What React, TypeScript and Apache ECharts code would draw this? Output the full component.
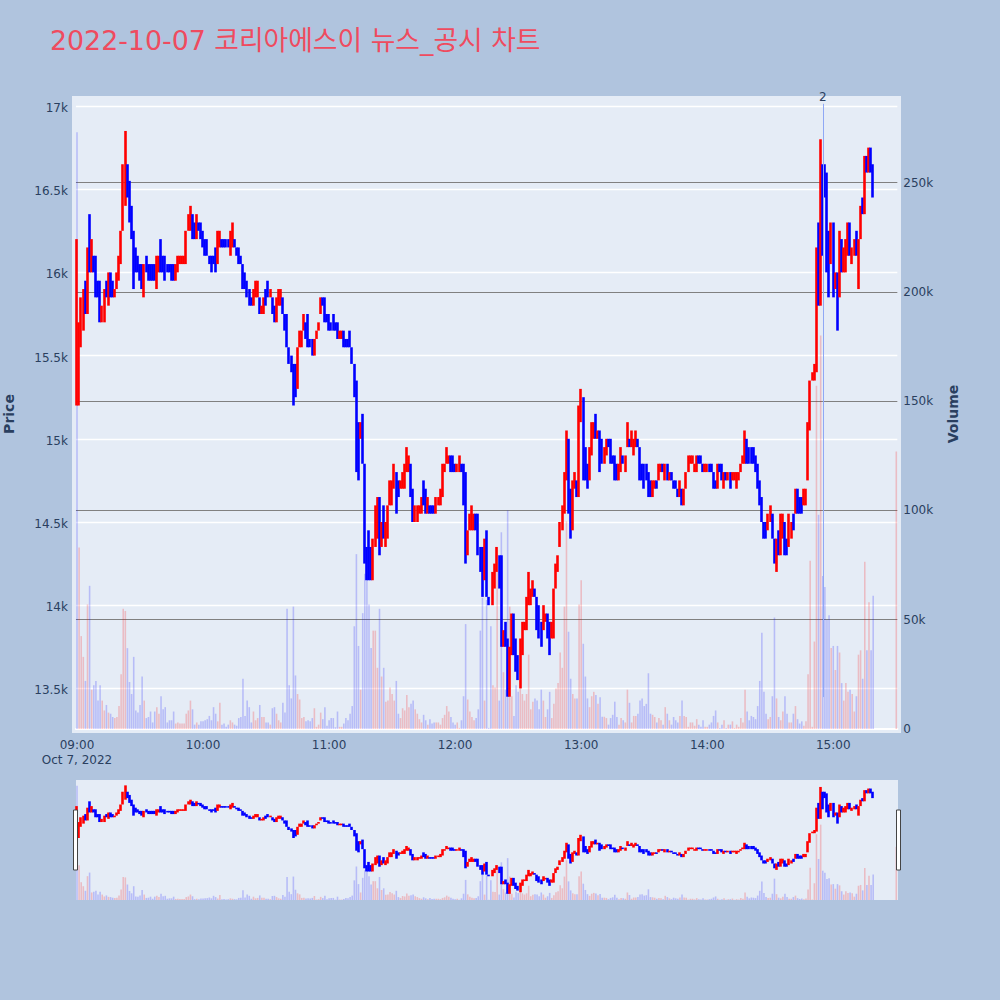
import React, { useEffect, useRef } from "react";
import * as echarts from "echarts";

// Each row: open, close, volume (thousands), optional low, optional high.
type Row = [number, number, number, number?, number?];

const TITLE = "2022-10-07 코리아에스이 뉴스_공시 차트";
const DATE_LABEL = "Oct 7, 2022";

const s0900: Row[] = [
  [15200,15700,273,15200,16200],[15300,15700,83,15200,15700],[15550,15800,42.5,15550,15850],[15650,15900,33],[15950,15750,22],
  [15750,16000,57,15750,16150],[16100,16000,65.5,16000,16350],[16000,16150,18,16000,16200],[16100,16000,20],[16100,15850,22],
  [15950,15850,13],[15950,15700,20],[15700,15800,13],[15700,15900,8.5],[15950,15850,11],
  [15800,16000,7.5],[16000,15850,7],[15950,15850,5.5],[15850,15900,5],[15900,16000,5.5],
  [15950,16100,10.5],[16050,16250,25],[16250,16650,55],[16400,16650,54,16400,16850],[16650,16450,37],
  [16550,16300,21.5],[16400,16200,16],[16250,16000,33,15900,16250],[16150,16000,8.5],[16100,16000,7.5],
];
const s0930: Row[] = [
  [16050,15950,11],[16050,15950,24,15900,16050],[15850,16050,13],[16050,16000,5,16000,16100],[16050,15950,5.5],
  [16050,15950,8],[16050,15950,3],[16050,15950,8],[15950,16100,10,15900,16100],[16000,16100,7],
  [16100,16000,15,16000,16200],[16100,16000,9],[16100,15950,10],[16050,16000,3],[16050,16000,4],
  [16050,15950,4],[16050,15950,8],[15950,16050,2.5],[16000,16100,3],[16050,16100,2.5],
  [16050,16100,2.5],[16050,16100,2.5],[16050,16250,7],[16250,16350,8.5],[16250,16400,13],
  [16350,16200,9],[16300,16200,2],[16200,16300,3,16200,16350],[16300,16250,2],[16300,16200,3.5],
];
const s1000: Row[] = [
  [16250,16150,3.5],[16200,16100,4],[16200,16100,4.5],[16100,16050,6],[16100,16000,4],
  [16100,16050,10],[16150,16000,7],[16050,16250,3.5],[16150,16250,12],[16200,16150,2],
  [16200,16150,2.5],[16200,16150,1],[16200,16150,2],[16100,16250,4],[16150,16300,3],
  [16200,16150,2],[16150,16100,1.5],[16150,16050,5],[16100,16050,5.5],[16050,15900,23],
  [16000,15900,6],[15950,15850,13],[15900,15800,10],[15850,15800,3],[15800,15900,8],
  [15850,15950,4],[15850,15950,5],[15850,15750,11],[15750,15800,5.5],[15750,15850,5.5],
];
const s1030: Row[] = [
  [15900,15800,3],[15950,15850,3],[15850,15900,2],[15850,15750,9.5],[15800,15700,10],
  [15700,15850,7],[15800,15900,4],[15800,15900,3],[15850,15750,12],[15750,15650,7.5],
  [15750,15550,55],[15550,15450,20],[15500,15400,14],[15450,15350,56,15200,15450],[15450,15250,24.5],
  [15300,15550,16],[15550,15650,13.5],[15550,15650,5],[15650,15750,5.5],[15700,15600,3.5],
  [15750,15550,4],[15600,15550,3.5],[15600,15500,5],[15500,15600,9.5],[15600,15650,1],
  [15650,15700,2],[15750,15850,7.5],[15850,15800,4.5],[15850,15700,10],[15750,15700,1.5],
];
const s1100: Row[] = [
  [15750,15650,4],[15700,15650,5],[15750,15650,5],[15700,15650,0.8],[15700,15600,8],
  [15600,15650,1],[15600,15650,1],[15650,15550,2.5],[15600,15550,5],[15600,15550,4],
  [15650,15550,7],[15550,15450,10.5],[15450,15250,47],[15350,15050,80,14800,15350],[15100,15000,38,14750,15100],
  [15000,15100,18],[15100,14850,53,14850,15150],[14850,14350,71,14250,14850],[14350,14150,68],[14450,14150,57],
  [14350,14150,37],[14150,14400,45],[14350,14600,45],[14400,14650,28],[14600,14400,55,14300,14650],
  [14350,14500,24],[14600,14400,28],[14350,14500,12.5],[14400,14600,13],[14600,14750,19],
];
const s1130: Row[] = [
  [14600,14750,16],[14700,14850,13],[14800,14650,22,14550,14800],[14750,14650,7],[14700,14750,5],
  [14700,14800,9.5],[14700,14850,8.5],[14800,14850,15.5,14800,14950],[14800,14900,10],[14850,14650,11.5],
  [14700,14500,13],[14500,14600,9],[14500,14600,7],[14550,14600,4.5],[14550,14650,3],
  [14750,14600,6.5],[14700,14550,4],[14550,14650,2],[14600,14550,4.5],[14600,14550,2.5],
  [14600,14550,3],[14550,14650,3],[14600,14650,3],[14600,14700,2],[14650,14850,5],
  [14800,14850,6.5],[14850,14950,10.5],[14850,14900,8],[14900,14800,5.5],[14900,14800,3],
];
const s1200: Row[] = [
  [14850,14800,2],[14800,14850,3],[14800,14900,0.5],[14850,14800,4],[14850,14600,15],
  [14600,14350,48,14250,14800],[14300,14450,13.5],[14450,14550,8],[14450,14600,5.5],[14450,14550,4],
  [14550,14450,5],[14550,14300,9],[14350,14200,45],[14350,14050,60],[14150,14400,13],
  [14450,14050,59],[14050,14000,0.5],[14000,14000,47],[14000,14200,20],[14100,14250,19],
  [14200,14350,83],[14300,14100,13],[14300,13800,90,13750,14300],[13750,13850,26],[13900,13750,18],
  [13800,13450,100],[13450,13750,56],[13700,13950,15],[13950,13700,6],[13800,13600,20],
];
const s1230: Row[] = [
  [13700,13550,17],[13500,13800,22],[13700,13900,16],[13850,13900,13],[13850,14050,16],
  [14000,14200,34],[14000,14100,9],[14050,14150,12.5],[14100,14050,14],[14050,13850,13],
  [14000,13800,9],[13900,13750,18],[13850,14000,13],[13900,13950,5.5],[13950,13800,9],
  [13900,13700,17],[13800,13900,5],[13800,14100,11.5],[14100,14250,18.5],[14200,14300,21],
  [14350,14500,35],[14450,14600,28],[14550,14800,56],[14750,15050,95],[15000,14550,44.5],
  [14700,14400,23],[14450,14750,16],[14700,14800,14],[14750,14650,14],[14650,15200,57],
];
const s1300: Row[] = [
  [15100,15250,68,15100,15300],[15250,14900,39,14750,15250],[14950,14750,24],[14850,14700,14],[14750,14950,10],
  [14900,15100,15],[15000,15100,17],[15150,15000,15.5],[15000,15050,11.5],[15050,14800,14.5],
  [15000,14850,5.6],[14850,14950,5.6],[14900,15000,5],[15000,14950,2],[15000,14850,5],
  [14900,14850,6.5],[14900,14750,12.5],[14850,14750,5.5],[14750,14850,2],[14800,14950,5],
  [14900,14850,4],[14800,14900,3],[14950,15050,18,14950,15100],[15000,14950,12],[14950,15050,3],
  [14900,15000,6],[14950,15050,6],[15000,14950,7],[14950,14750,13],[14850,14750,14],
];
const s1330: Row[] = [
  [14850,14700,10.5],[14850,14750,11.5],[14800,14650,25.5],[14750,14650,7],[14650,14750,6.5],
  [14700,14750,5.5],[14750,14700,3],[14750,14850,5],[14800,14850,4],[14850,14800,2],
  [14750,14850,10],[14850,14750,7],[14750,14800,4],[14800,14750,2],[14750,14700,5.5],
  [14750,14700,4],[14700,14650,3],[14650,14750,6],[14700,14600,13],[14600,14700,6],
  [14700,14800,5.5],[14800,14900,1],[14850,14900,3],[14850,14900,3],[14800,14850,1.5],
  [14800,14900,4.5],[14900,14850,2],[14900,14850,1],[14850,14800,4],[14800,14850,1],
];
const s1400: Row[] = [
  [14800,14850,1],[14850,14800,2],[14850,14800,3],[14800,14700,6],[14750,14700,8.5],
  [14700,14850,3],[14850,14800,0.5],[14850,14750,2],[14700,14800,4],[14800,14750,0.5],
  [14750,14800,2],[14800,14700,2],[14750,14800,3.5],[14750,14800,0.5],[14700,14800,2],
  [14750,14800,1],[14800,14850,5],[14850,14900,3],[14850,14950,18,14850,15050],[15000,14850,8],
  [14950,14850,4],[14950,14850,6],[14950,14850,5.5],[14900,14800,4.5],[14850,14700,10.5],
  [14750,14600,22],[14650,14500,44],[14500,14400,17],[14500,14400,7],[14450,14550,4.5],
];
const s1430: Row[] = [
  [14500,14550,5.5,14500,14600],[14550,14400,15],[14400,14250,51],[14250,14400,14,14200,14400],[14450,14300,5.5],
  [14300,14550,4],[14400,14550,8],[14500,14300,15],[14400,14300,7],[14350,14550,3],
  [14400,14500,3],[14550,14450,7],[14550,14700,10.5],[14700,14550,4.5],[14650,14550,2.5],
  [14650,14550,3.5],[14600,14700,1.5],[14600,14700,3.5],[14750,15100,25],[15050,15350,77],
  [15350,15400,1],[15350,15450,40],[15400,16150,157],[16300,15800,98],[15800,16650,180,15800,16800],
  [16650,16100,70],[16650,16450,65],[16600,16000,50],[16250,15850,52],[16050,16300,37],
];
const s1500: Row[] = [
  [16300,15850,38],[15900,16000,27],[16000,15850,38,15650,16000],[15850,16250,35],[16200,16000,21],
  [16000,16150,13],[16000,16200,21],[16100,16300,17],[16300,16100,18],[16050,16150,16],
  [16100,16200,8],[16250,16100,15],[16100,16200,34,15900,16200],[16200,16400,36],[16450,16350,23],
  [16350,16700,76.5],[16700,16600,36],[16600,16750,58],[16750,16600,36],[16650,16450,61],
];
const closingAuctionMinute = 390;
const closingAuction: Row = [16800, 16800, 127];
const annotationMinute = "14:55";
const annotationText = "2";
const annotationFrom = 14.6;
const annotationTo = 286;

const sessions = [s0900, s0930, s1000, s1030, s1100, s1130, s1200, s1230, s1300, s1330, s1400, s1430, s1500];
const rows: [number, Row][] = sessions.flat().map((r, i) => [i, r] as [number, Row]);
rows.push([closingAuctionMinute, closingAuction]);

const minutes: string[] = Array.from({ length: 391 }, (_, i) => {
  const m = 9 * 60 + i;
  return `${String(Math.floor(m / 60)).padStart(2, "0")}:${String(m % 60).padStart(2, "0")}`;
});

const RED = "#ff0000";
const BLUE = "#0000ff";
const FONT = "'DejaVu Sans', 'Noto Sans CJK KR', sans-serif";
const TEXT = "#2a3f5f";

const candleData = rows.map(([t, [o, c, , l, h]]) => ({
  value: [t, o, c, l ?? Math.min(o, c), h ?? Math.max(o, c)],
  itemStyle: t === closingAuctionMinute ? { borderColorDoji: RED } : undefined,
}));
const volumeData = rows.map(([t, [o, c, v]]) => {
  const up = t === 0 ? false : t === closingAuctionMinute ? true : c > o;
  return { value: [t, v], itemStyle: { color: up ? "rgba(255,0,0,0.2)" : "rgba(0,0,255,0.2)" } };
});

const candleStyle = {
  color: RED,
  color0: BLUE,
  borderColor: RED,
  borderColor0: BLUE,
  borderColorDoji: BLUE,
  borderWidth: 2.6,
};

const GRID_LEFT = 75.95;
const GRID_WIDTH = 821.4;

function buildOption(): any {
  const hiddenX = (gridIndex: number) => ({
    type: "category",
    gridIndex,
    data: minutes,
    show: false,
  });
  return {
    animation: false,
    backgroundColor: "#B0C4DE",
    textStyle: { fontFamily: FONT },
    title: {
      text: TITLE,
      left: 50,
      top: 27,
      padding: 0,
      textStyle: { color: "#EF4B5F", fontSize: 26.8, fontWeight: "normal", fontFamily: FONT },
    },
    graphic: [
      { type: "rect", z: -100, shape: { x: 72, y: 96, width: 829, height: 637 }, style: { fill: "#E5ECF6" } },
      { type: "rect", z: -100, shape: { x: 76, y: 780, width: 822, height: 120 }, style: { fill: "#E5ECF6" } },
      { type: "rect", z: 100, shape: { x: 73.5, y: 810, width: 4, height: 60 }, style: { fill: "#fff", stroke: "#444", lineWidth: 1 } },
      { type: "rect", z: 100, shape: { x: 896.5, y: 810, width: 4, height: 60 }, style: { fill: "#fff", stroke: "#444", lineWidth: 1 } },
      {
        type: "text", x: 9, y: 414, rotation: Math.PI / 2,
        style: { text: "Price", fill: TEXT, font: `bold 14px ${FONT}`, align: "center", verticalAlign: "middle" },
      },
      {
        type: "text", x: 953, y: 414, rotation: Math.PI / 2,
        style: { text: "Volume", fill: TEXT, font: `bold 14px ${FONT}`, align: "center", verticalAlign: "middle" },
      },
    ],
    grid: [
      { left: GRID_LEFT, width: GRID_WIDTH, top: 106, height: 665.6 },
      { left: GRID_LEFT, width: GRID_WIDTH, top: 73.2, height: 655.8 },
      { left: GRID_LEFT, width: GRID_WIDTH, top: 780, height: 120 },
      { left: GRID_LEFT, width: GRID_WIDTH, top: 780, height: 120 },
    ],
    xAxis: [
      hiddenX(0),
      {
        type: "category",
        gridIndex: 1,
        data: minutes,
        axisTick: { show: false },
        axisLine: { show: true, onZero: false, lineStyle: { color: "#ffffff", width: 2 } },
        axisLabel: {
          color: TEXT,
          fontSize: 12,
          fontFamily: FONT,
          margin: 8,
          lineHeight: 15,
          interval: (i: number) => i % 60 === 0,
          hideOverlap: false,
          formatter: (v: string) => (v === minutes[0] ? `${v}\n${DATE_LABEL}` : v),
        },
      },
      hiddenX(2),
      hiddenX(3),
    ],
    yAxis: [
      {
        type: "value",
        gridIndex: 0,
        min: 13000,
        max: 17000,
        interval: 500,
        axisLine: { show: false },
        axisTick: { show: false },
        splitLine: { show: true, showMinLine: false, lineStyle: { color: "#ffffff", width: 1.3 } },
        axisLabel: {
          color: TEXT,
          fontSize: 12,
          fontFamily: FONT,
          margin: 8,
          showMinLabel: false,
          formatter: (v: number) => `{p|${v / 1000}k}`,
          rich: { p: { color: TEXT, fontSize: 12, fontFamily: FONT, padding: [4, 0, 0, 0] } },
        },
      },
      {
        type: "value",
        gridIndex: 1,
        position: "right",
        min: 0,
        max: 300,
        interval: 50,
        axisLine: { show: false },
        axisTick: { show: false },
        splitLine: { show: true, showMinLine: false, showMaxLine: false, lineStyle: { color: "#808080", width: 1 } },
        axisLabel: {
          color: TEXT,
          fontSize: 12,
          fontFamily: FONT,
          margin: 6,
          showMaxLabel: false,
          formatter: (v: number) => (v === 0 ? "0" : `${v}k`),
        },
      },
      { type: "value", gridIndex: 2, min: 13256, max: 17018, show: false },
      { type: "value", gridIndex: 3, min: 0, max: 286.6, show: false },
    ],
    series: [
      {
        type: "bar",
        xAxisIndex: 1,
        yAxisIndex: 1,
        data: volumeData,
        barWidth: 1.6,
        z: 2,
        markLine: {
          silent: true,
          symbol: "none",
          lineStyle: { color: "#8fa8f5", width: 1, type: "solid" },
          label: { show: true, formatter: annotationText, position: "end", color: TEXT, fontSize: 12, fontFamily: FONT, distance: 1 },
          data: [[
            { coord: [annotationMinute, annotationFrom] },
            { coord: [annotationMinute, annotationTo] },
          ]],
        },
      },
      {
        type: "candlestick",
        xAxisIndex: 0,
        yAxisIndex: 0,
        encode: { x: 0, y: [1, 2, 3, 4] },
        data: candleData,
        barWidth: 1,
        itemStyle: candleStyle,
        z: 3,
      },
      {
        type: "bar",
        xAxisIndex: 3,
        yAxisIndex: 3,
        data: volumeData,
        barWidth: 1.6,
        z: 2,
      },
      {
        type: "candlestick",
        xAxisIndex: 2,
        yAxisIndex: 2,
        encode: { x: 0, y: [1, 2, 3, 4] },
        data: candleData,
        barWidth: 1,
        itemStyle: candleStyle,
        z: 3,
      },
    ],
  };
}

export default function App() {
  const ref = useRef<HTMLDivElement>(null);
  useEffect(() => {
    const chart = echarts.init(ref.current!, undefined, { renderer: "svg" });
    chart.setOption(buildOption());
    return () => chart.dispose();
  }, []);
  return <div ref={ref} style={{ position: "fixed", left: 0, top: 0, width: 1000, height: 1000 }} />;
}
